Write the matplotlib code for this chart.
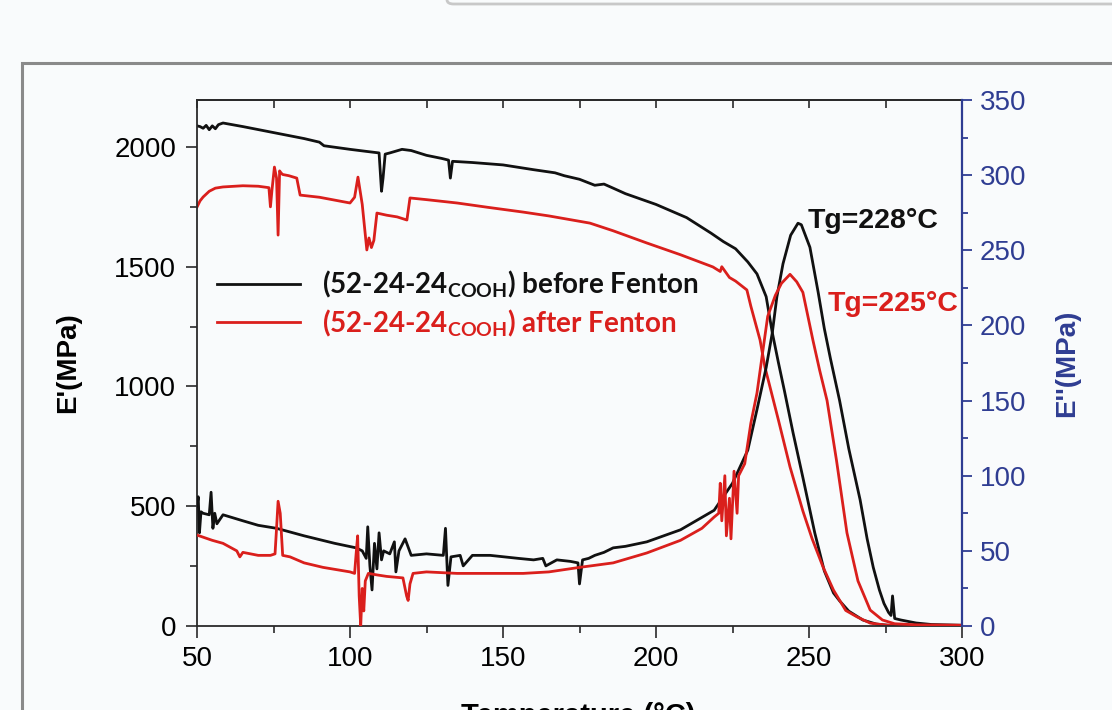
import matplotlib
matplotlib.use("Agg")
import matplotlib.pyplot as plt
from matplotlib.patches import Rectangle, FancyBboxPatch
from matplotlib.ticker import MultipleLocator

plt.rcParams['font.family'] = ['Liberation Sans', 'DejaVu Sans']
plt.rcParams['mathtext.fontset'] = 'custom'
plt.rcParams['mathtext.rm'] = 'Lato:bold'
plt.rcParams['mathtext.it'] = 'Lato:bold'
plt.rcParams['mathtext.bf'] = 'Lato:bold'

# storage modulus E' (left axis), before Fenton
t_e1_before = [50, 51, 52, 53, 54, 55, 56, 57, 58.5, 65, 75, 85, 90, 91.5, 100, 105,
               109.5, 110.3, 110.8, 111.5, 113, 117, 120, 125, 130, 132.2, 132.8, 133.5,
               140, 150, 160, 167, 170, 175, 178, 180, 183, 186, 190, 200, 210, 218, 222,
               226, 230, 233, 236, 238, 240, 242, 244.8, 248, 251.9, 255, 258, 260, 263,
               267.6, 272, 276, 280, 290, 300]
e1_before = [2088, 2085, 2078, 2090, 2072, 2088, 2076, 2093, 2100, 2085, 2060, 2035, 2020,
             2005, 1990, 1982, 1975, 1815, 1870, 1970, 1975, 1990, 1985, 1965, 1952, 1945,
             1870, 1940, 1935, 1925, 1905, 1892, 1880, 1865, 1850, 1840, 1845, 1828, 1805,
             1760, 1705, 1640, 1605, 1575, 1520, 1470, 1375, 1225, 1100, 980, 806, 620,
             388, 230, 138, 105, 62, 25, 8, 3, 2, 1, 0.5]

# storage modulus E' (left axis), after Fenton
t_e1_after = [50, 51, 52, 54, 56, 58.5, 65, 70, 73.5, 74, 74.5, 75.3, 76, 76.5, 77, 77.5,
              78, 80, 82.6, 83.7, 90, 100, 101.5, 102.6, 104, 105.5, 106.2, 107, 107.8,
              108.8, 112, 115.4, 118.6, 119.6, 125, 135, 145, 156.6, 165, 178.4, 186, 197,
              208, 218.6, 221, 221.5, 224, 226, 229.7, 231, 234, 235.6, 240, 243.8, 248,
              251, 254.6, 258, 262, 265.7, 270, 275, 280, 300]
e1_after = [1749, 1775, 1791, 1815, 1828, 1833, 1838, 1836, 1830, 1750, 1820, 1916, 1870,
            1632, 1900, 1891, 1885, 1880, 1870, 1799, 1790, 1766, 1790, 1874, 1760, 1570,
            1620, 1580, 1610, 1724, 1715, 1708, 1695, 1787, 1780, 1766, 1748, 1728, 1712,
            1682, 1650, 1599, 1550, 1499, 1480, 1500, 1455, 1440, 1403, 1335, 1194, 1081,
            860, 664, 480, 365, 246, 150, 65, 38, 12, 4, 2, 1]

# loss modulus E'' (right axis), before Fenton
t_e2_before = [50, 50.4, 50.8, 51.3, 52, 54, 54.6, 55.2, 55.8, 56.5, 58.5, 65, 70, 76, 85,
               95, 102, 104, 105.3, 105.8, 106.5, 107.2, 108, 108.8, 109.5, 110.3, 111,
               113, 114.5, 115, 116, 118, 120, 125, 130.5, 131.2, 132, 133, 136, 137, 140,
               145.8, 155, 160, 163, 164, 167.6, 172, 174.5, 175, 176, 178, 180, 183, 186,
               190, 197, 208, 219, 225, 230, 233, 236, 238, 239.5, 241.5, 244, 246.4,
               247.5, 250.3, 253, 255, 257, 260, 263, 266.7, 269, 271, 273, 274.5, 276,
               276.8, 277.3, 278, 280, 285, 290, 300]
e2_before = [80, 86, 62, 76, 75, 74, 89, 65, 75, 68, 74, 70, 67, 65, 60, 55, 52, 50, 45,
             66, 40, 24, 55, 38, 62, 44, 50, 48, 56, 36, 50, 58, 47, 48, 47, 65, 27, 46,
             47, 40, 47, 47, 45, 44, 45, 40, 44, 43, 42, 28, 44, 45, 47, 49, 52, 53, 56,
             64, 77, 95, 117, 144, 172, 195, 219, 241, 260, 268, 267, 252, 222, 198, 178,
             150, 118, 84, 58, 39, 24, 15, 9, 7, 20, 5, 4, 2, 1, 0.5]

# loss modulus E'' (right axis), after Fenton
t_e2_after = [50, 55, 58.5, 63, 64, 65, 70, 74, 75.5, 76, 76.5, 77.2, 78, 80.4, 85, 91.2,
              100, 101.5, 102, 102.5, 103, 103.5, 104, 104.5, 105, 106, 108.8, 112, 117.3,
              118.5, 119, 119.6, 120.6, 125, 135, 145, 156.6, 165, 175, 186, 197, 208, 215,
              219, 220.5, 221, 221.5, 222.5, 223, 224, 224.5, 225.5, 226.5, 227, 229, 231,
              233, 234.5, 236.5, 239, 241, 243.8, 246, 248, 251.3, 253.5, 255.9, 259,
              262.4, 266, 270, 274, 278, 285, 300]
e2_after = [60.5, 57, 55, 50, 46, 49, 47, 47, 48, 65, 83, 75, 47, 46, 42, 39, 36, 35, 48,
            60, 20, 0, 25, 10, 30, 35, 34, 33, 32, 20, 17, 28, 35, 36, 35, 35, 35, 36, 39,
            42, 48.6, 57, 65, 72.5, 75, 95, 70, 100, 60, 85, 58, 103, 75, 100, 108, 135,
            155, 177, 206, 220, 228, 234, 229, 222, 190, 170, 150, 110, 62, 30, 10.6, 4,
            1.5, 0.8, 0.5]

legend_labels = [r"(52-24-24$_{\mathrm{COOH}}$) before Fenton",
                 r"(52-24-24$_{\mathrm{COOH}}$) after Fenton"]

black = '#111111'
red = '#DA1F1C'
navy = '#2F3D92'
spine_c = '#2a2a2a'

fig = plt.figure(figsize=(11.12, 7.10), dpi=100, facecolor='#F9FBFC')

# outer frame of the original figure panel and the bar at the top
fig.patches.append(Rectangle((22 / 1112, -0.2), 1.2, 0.2 + 1 - 63 / 710,
                             transform=fig.transFigure, fill=False,
                             edgecolor='#8a8a8a', linewidth=2.2))
fig.patches.append(FancyBboxPatch((447 / 1112, 1 - 4 / 710), 1.0, 0.2,
                                  boxstyle='round,pad=0,rounding_size=0.006',
                                  transform=fig.transFigure, facecolor='#F9FBFC',
                                  edgecolor='#c8c8c8', linewidth=2.0))

ax = fig.add_axes([197 / 1112, 1 - 626 / 710, 765 / 1112, 526 / 710])
ax.set_facecolor('none')
ax2 = ax.twinx()

lw = 2.0
l1, = ax.plot(t_e1_before, e1_before, color=black, lw=lw)
l2, = ax.plot(t_e1_after, e1_after, color=red, lw=lw)
ax2.plot(t_e2_before, e2_before, color=black, lw=lw)
ax2.plot(t_e2_after, e2_after, color=red, lw=lw)

ax.set_xlim(50, 300)
ax.set_ylim(0, 2196)
ax2.set_ylim(0, 350)

ax.xaxis.set_major_locator(MultipleLocator(50))
ax.xaxis.set_minor_locator(MultipleLocator(25))
ax.yaxis.set_major_locator(MultipleLocator(500))
ax.yaxis.set_minor_locator(MultipleLocator(250))
ax2.yaxis.set_major_locator(MultipleLocator(50))
ax2.yaxis.set_minor_locator(MultipleLocator(25))

for s in ['left', 'bottom', 'top']:
    ax.spines[s].set_color(spine_c)
    ax.spines[s].set_linewidth(1.3)
for s in ['left', 'bottom', 'top']:
    ax2.spines[s].set_visible(False)
ax.spines['right'].set_visible(False)
ax2.spines['right'].set_color(navy)
ax2.spines['right'].set_linewidth(1.6)

ax.tick_params(axis='x', which='major', direction='out', length=8.6, width=1.2,
               color=spine_c, labelsize=20, pad=6, top=False)
ax.tick_params(axis='x', which='minor', direction='out', length=5, width=1.2,
               color=spine_c, top=False)
ax.tick_params(axis='y', which='major', direction='out', length=8, width=1.2,
               color=spine_c, labelsize=20, pad=7, right=False)
ax.tick_params(axis='y', which='minor', direction='out', length=5, width=1.2,
               color=spine_c, right=False)
ax2.tick_params(axis='y', which='major', direction='out', length=7, width=1.3,
                color=navy, labelcolor=navy, labelsize=20, pad=6)
ax2.tick_params(axis='y', which='minor', direction='out', length=4.5, width=1.3,
                color=navy)

# inward ticks on the top edge
top = ax.secondary_xaxis('top')
top.xaxis.set_major_locator(MultipleLocator(25))
top.tick_params(axis='x', which='major', direction='in', length=6, width=1.2,
                color=spine_c, labeltop=False)
top.spines['top'].set_color(spine_c)
top.spines['top'].set_linewidth(1.3)

ax.set_ylabel("E'(MPa)", fontsize=20, fontweight='bold', labelpad=24)
ax2.set_ylabel("E''(MPa)", fontsize=20, fontweight='bold', color=navy, labelpad=20)
fig.text(578 / 1112, 1 - 702 / 710, "Temperature (°C)", fontsize=21, fontweight='bold',
         ha='center', va='top')

ax2.text(249.7, 269.5, "Tg=228°C", fontsize=20.5, fontweight='bold', color=black,
         ha='left', va='center')
ax2.text(256.2, 214, "Tg=225°C", fontsize=20.5, fontweight='bold', color=red,
         ha='left', va='center')

leg = ax.legend([l1, l2], legend_labels, loc='upper left',
                bbox_to_anchor=(0.026, 0.678), frameon=False, borderpad=0,
                borderaxespad=0, handlelength=3.0, handletextpad=0.78,
                labelspacing=0.25, prop={'family': 'Lato', 'weight': 'bold', 'size': 20})
leg.get_texts()[0].set_color(black)
leg.get_texts()[1].set_color(red)
for h in leg.legend_handles:
    h.set_linewidth(lw)

fig.savefig("out.png", dpi=100, facecolor=fig.get_facecolor())
